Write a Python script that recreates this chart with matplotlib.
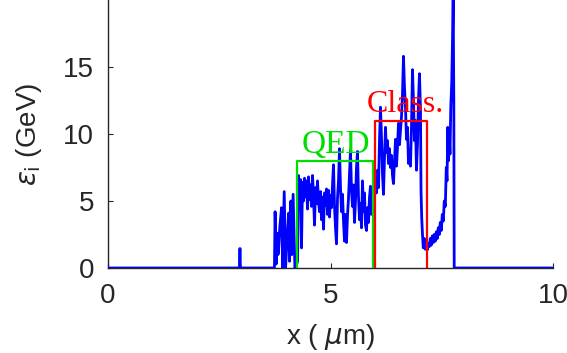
import numpy as np
import matplotlib
matplotlib.use("Agg")
import matplotlib.pyplot as plt

# energy trace (x in um, eps in GeV)
x_head = [0.0, 2.955, 2.962, 2.968, 2.975, 3.74, 3.755, 3.78, 3.80, 3.82, 3.83, 3.86,
          3.90, 3.925, 3.96, 3.99, 4.03, 4.06, 4.08, 4.11, 4.13, 4.16, 4.20, 4.24, 4.26]
y_head = [0.0, 0.0, 1.45, 1.45, 0.0, 0.0, 4.2, 0.3, 2.6, 1.0, 1.2, 3.0,
          4.5, 0.0, 5.7, 0.0, 2.5, 4.1, 0.5, 5.0, 1.0, 5.5, 0.0, 0.3, 0.5]

# dense noisy part between 4.28 and 7.02 um (evenly sampled)
x_noisy_start, x_noisy_end = 4.281, 7.022
y_noisy = [6.9, 5.2, 6.6, 1.5, 6.4, 5.0, 6.7, 5.3, 6.5, 4.4,
           6.8, 5.1, 6.2, 4.6, 6.9, 5.4, 3.2, 6.0, 4.8, 6.5,
           5.0, 4.2, 5.7, 3.6, 5.3, 2.9, 5.6, 4.7, 5.9, 4.0,
           5.8, 3.8, 5.4, 4.5, 6.2, 7.7, 4.6, 3.0, 1.8, 5.2,
           6.5, 8.9, 6.0, 4.2, 5.5, 3.5, 2.0, 4.0, 1.9, 3.9,
           5.2, 7.0, 8.8, 5.8, 4.6, 6.2, 3.4, 5.0, 7.5, 8.7,
           5.3, 3.6, 4.8, 3.0, 6.5, 4.2, 5.6, 3.2, 2.8, 4.5,
           3.4, 5.3, 6.1, 4.0, 5.4, 6.2, 5.5, 6.8, 5.6, 7.3,
           6.0, 9.5, 12.0, 9.8, 7.0, 5.5, 8.2, 10.5, 8.6, 9.5,
           7.8, 8.9, 7.5, 8.4, 6.9, 6.3, 8.0, 9.6, 7.6, 9.0,
           10.8, 9.2, 10.2, 11.3, 13.0, 15.8, 13.5, 12.0, 9.6, 10.5,
           7.8, 8.8, 7.6, 10.5, 14.8, 12.5, 9.5, 11.0, 7.3, 9.2,
           12.5, 14.5, 11.8]

x_tail = [7.034, 7.049, 7.067, 7.085, 7.108, 7.130, 7.153, 7.175, 7.198, 7.220,
          7.243, 7.265, 7.288, 7.310, 7.333, 7.355, 7.378, 7.400, 7.422, 7.445,
          7.467, 7.490, 7.512, 7.535, 7.557, 7.580, 7.602, 7.618, 7.636, 7.652,
          7.670, 7.685, 7.703, 7.724, 7.742, 7.757, 7.771, 7.780, 10.0]
y_tail = [5.8, 3.8, 2.5, 1.5, 2.2, 1.4, 2.0, 1.35, 1.8, 1.6,
          2.2, 1.7, 2.4, 1.9, 2.5, 2.0, 2.7, 2.2, 3.0, 2.5,
          3.4, 2.8, 4.0, 3.5, 5.0, 4.6, 7.5, 6.5, 10.5, 8.0,
          9.8, 8.5, 12.0, 13.8, 17.0, 20.3, 12.5, 0.0, 0.0]

# boxes: (x left, x right, height)
qed_box = (4.25, 5.96, 8.0)
class_box = (6.0, 7.17, 11.0)

x_noisy = np.linspace(x_noisy_start, x_noisy_end, len(y_noisy))
x_all = np.concatenate([x_head, x_noisy, x_tail])
y_all = np.concatenate([y_head, y_noisy, y_tail])

fig = plt.figure(figsize=(5.67, 3.53), dpi=100)
ax = fig.add_axes([108/567, 85/353, 445/567, 268/353])

ax.plot(x_all, y_all, color='#0000ff', lw=2.0, zorder=3)

green = '#00dd00'
red = '#ff0000'
for (x0, x1, h), c in [(qed_box, green), (class_box, red)]:
    ax.plot([x0, x0, x1, x1], [0, h, h, 0], color=c, lw=1.6, zorder=4)

ax.text(4.34, 8.6, 'QED', color=green, fontsize=24, family='Liberation Serif',
        ha='left', va='baseline')
ax.text(5.82, 11.65, 'Class.', color=red, fontsize=23, family='Liberation Serif',
        ha='left', va='baseline')

ax.set_xlim(0, 10)
ax.set_ylim(0, 20)
ax.set_xticks([0, 5, 10])
ax.set_yticks([0, 5, 10, 15])
ax.spines['top'].set_visible(False)
ax.spines['right'].set_visible(False)
for s in ['left', 'bottom']:
    ax.spines[s].set_color('#262626')
    ax.spines[s].set_linewidth(1.0)
    ax.spines[s].set_zorder(2)
ax.tick_params(direction='in', length=3.6, width=0.8, color='#262626',
               labelsize=20, labelcolor='#262626')
ax.tick_params(axis='x', pad=11)
ax.tick_params(axis='y', pad=10)
for lab in ax.get_xticklabels() + ax.get_yticklabels():
    lab.set_family('Liberation Sans')

ax.set_xlabel(r'x ( $\mu$m)', fontsize=20, family='Liberation Sans', color='#262626', labelpad=9)
ax.set_ylabel(r'$\epsilon_{\rm i}$ (GeV)', fontsize=20, family='Liberation Sans', color='#262626', labelpad=14)

fig.savefig('out.png', dpi=100)
